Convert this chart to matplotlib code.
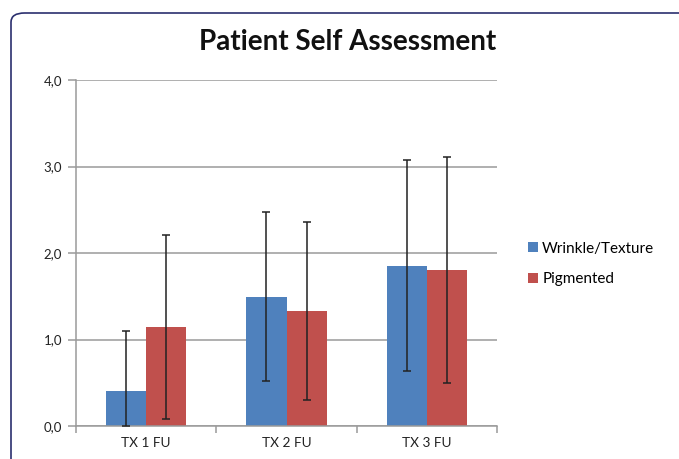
import matplotlib
matplotlib.use('Agg')
import matplotlib.pyplot as plt
from matplotlib.patches import FancyBboxPatch
import numpy as np

plt.rcParams['font.family'] = ['Lato', 'DejaVu Sans']

# Datos del gráfico
categorias = ['TX 1 FU', 'TX 2 FU', 'TX 3 FU']
series = ['Wrinkle/Texture', 'Pigmented']
medias_arrugas = [0.40, 1.49, 1.85]
medias_pigmento = [1.14, 1.33, 1.80]
# límites de las barras de error (inferior, superior)
err_inf_arrugas = [0.00, 0.52, 0.64]
err_sup_arrugas = [1.10, 2.47, 3.08]
err_inf_pigmento = [0.08, 0.30, 0.50]
err_sup_pigmento = [2.21, 2.36, 3.11]
ticks_y = [0.0, 1.0, 2.0, 3.0, 4.0]
etiquetas_y = ['0,0', '1,0', '2,0', '3,0', '4,0']

color_azul = '#4F81BD'
color_rojo = '#C0504D'

fig = plt.figure(figsize=(6.79, 4.59), dpi=100)

# Marco redondeado alrededor del gráfico
marco = FancyBboxPatch((11 / 679, -0.2), 1.2, (459 - 13) / 459 + 0.2,
                       boxstyle='round,pad=0,rounding_size=0.02',
                       transform=fig.transFigure, fill=False,
                       edgecolor='#2b2f6e', linewidth=1.2)
fig.patches.append(marco)

ax = fig.add_axes([76 / 679, 1 - 426 / 459, (497 - 76) / 679, (426 - 80) / 459])

x = np.arange(len(categorias))
ancho = 0.286

med_a = np.array(medias_arrugas)
med_p = np.array(medias_pigmento)
yerr_a = [med_a - np.array(err_inf_arrugas), np.array(err_sup_arrugas) - med_a]
yerr_p = [med_p - np.array(err_inf_pigmento), np.array(err_sup_pigmento) - med_p]

ax.bar(x - ancho / 2, med_a, ancho, color=color_azul, label=series[0], zorder=2)
ax.bar(x + ancho / 2, med_p, ancho, color=color_rojo, label=series[1], zorder=2)
ax.errorbar(x - ancho / 2, med_a, yerr=yerr_a, fmt='none', ecolor='#222222',
            elinewidth=1.1, capsize=3, capthick=1.1, zorder=3)
ax.errorbar(x + ancho / 2, med_p, yerr=yerr_p, fmt='none', ecolor='#222222',
            elinewidth=1.1, capsize=3, capthick=1.1, zorder=3)

ax.set_xlim(-0.5, len(categorias) - 0.5)
ax.set_ylim(0, 4)
ax.set_yticks(ticks_y)
ax.set_yticklabels(etiquetas_y, fontsize=9.5, color='#222222')
ax.yaxis.grid(True, color='#9a9a9a', linewidth=1.1, zorder=0)
ax.set_axisbelow(True)

# Ticks del eje x entre categorías
ax.set_xticks(np.arange(-0.5, len(categorias), 1.0))
ax.set_xticklabels([''] * (len(categorias) + 1))
ax.set_xticks(x, minor=True)
ax.set_xticklabels(categorias, minor=True, fontsize=9.8, color='#222222')
ax.tick_params(axis='x', which='minor', length=0, pad=8)
ax.tick_params(axis='x', which='major', length=5, color='#9a9a9a', width=1.1)
ax.tick_params(axis='y', length=6, color='#9a9a9a', width=1.1, pad=4)

for lado in ['top', 'right']:
    ax.spines[lado].set_visible(False)
for lado in ['left', 'bottom']:
    ax.spines[lado].set_color('#9a9a9a')
    ax.spines[lado].set_linewidth(1.1)

fig.text(348 / 679, 1 - 42 / 459, 'Patient Self Assessment', ha='center', va='center',
         fontsize=20, fontweight='bold', color='#111111')

fig.legend(loc='center left', bbox_to_anchor=(514 / 679, 1 - 264 / 459),
           frameon=False, fontsize=11, handlelength=0.65, handleheight=0.65,
           handletextpad=0.3, labelspacing=1.1)

fig.savefig('out.png', dpi=100)
